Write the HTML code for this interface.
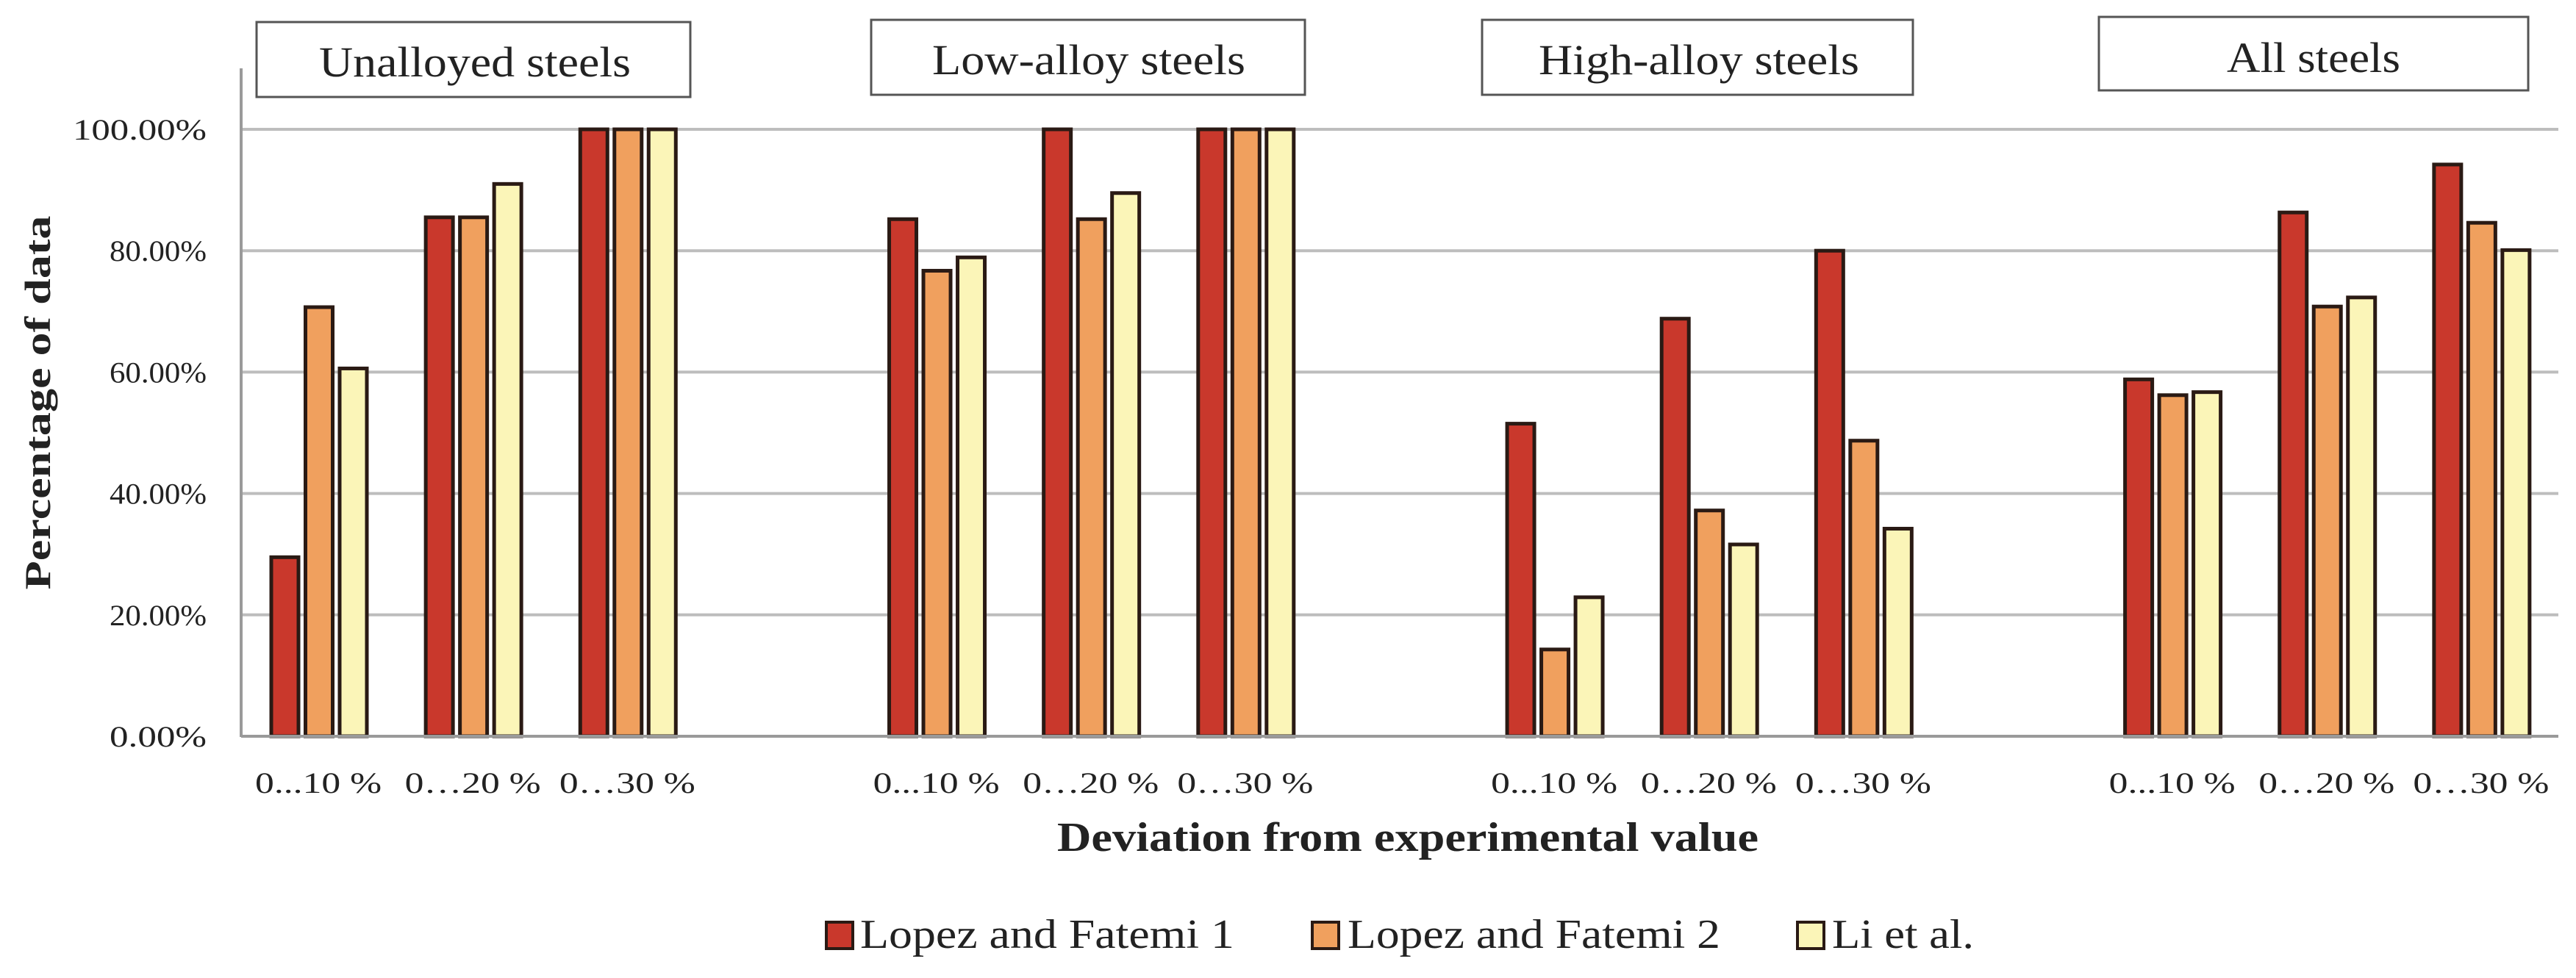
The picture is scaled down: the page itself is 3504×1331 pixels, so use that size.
<!DOCTYPE html>
<html><head><meta charset="utf-8"><style>
html,body{margin:0;padding:0;background:#fff;}
svg{display:block;}
text{font-family:"Liberation Serif",serif;fill:#222;}
</style></head><body>
<svg id="chart" width="3504" height="1331" viewBox="0 0 3504 1331" xmlns="http://www.w3.org/2000/svg">
<g id="grid"></g>
<g id="yticks"></g>
<g id="bars"></g>
<g id="xlabels"></g>
<line x1="328" y1="93" x2="328" y2="1003" stroke="#9a9a9a" stroke-width="4"/>
<line x1="328" y1="1002" x2="3480" y2="1002" stroke="#9a9a9a" stroke-width="4"/>
<text transform="translate(68,548) rotate(-90)" text-anchor="middle" font-weight="bold" font-size="50" textLength="509" lengthAdjust="spacingAndGlyphs">Percentage of data</text>
<text x="1438" y="1158" font-weight="bold" font-size="56" textLength="954" lengthAdjust="spacingAndGlyphs">Deviation from experimental value</text>
<g><rect x="349" y="30" width="590" height="102" fill="#fff" stroke="#555" stroke-width="3"/><text x="434" y="104" font-size="58" textLength="424" lengthAdjust="spacingAndGlyphs">Unalloyed steels</text></g>
<g><rect x="1185" y="27" width="590" height="102" fill="#fff" stroke="#555" stroke-width="3"/><text x="1268" y="101" font-size="58" textLength="426" lengthAdjust="spacingAndGlyphs">Low-alloy steels</text></g>
<g><rect x="2016" y="27" width="586" height="102" fill="#fff" stroke="#555" stroke-width="3"/><text x="2093" y="101" font-size="58" textLength="436" lengthAdjust="spacingAndGlyphs">High-alloy steels</text></g>
<g><rect x="2855" y="23" width="584" height="100" fill="#fff" stroke="#555" stroke-width="3"/><text x="3029" y="98" font-size="58" textLength="236" lengthAdjust="spacingAndGlyphs">All steels</text></g>
<g>
<g><rect x="1124" y="1255" width="36" height="36" fill="#c9382c" stroke="#2a1a14" stroke-width="4"/><text x="1170" y="1290" font-size="56" textLength="509" lengthAdjust="spacingAndGlyphs">Lopez and Fatemi 1</text></g>
<g><rect x="1785" y="1255" width="36" height="36" fill="#f0a05e" stroke="#2a1a14" stroke-width="4"/><text x="1833" y="1290" font-size="56" textLength="507" lengthAdjust="spacingAndGlyphs">Lopez and Fatemi 2</text></g>
<g><rect x="2445" y="1255" width="36" height="36" fill="#fbf5b8" stroke="#2a1a14" stroke-width="4"/><text x="2492" y="1290" font-size="56" textLength="193" lengthAdjust="spacingAndGlyphs">Li et al.</text></g>
</g>
</svg>
<script>
const categories = ["0...10 %","0…20 %","0…30 %","","0...10 %","0…20 %","0…30 %","","0...10 %","0…20 %","0…30 %","","0...10 %","0…20 %","0…30 %"];
const seriesNames = ["Lopez and Fatemi 1","Lopez and Fatemi 2","Li et al."];
const lopezFatemi1 = [29.5,85.5,100,null,85.2,100,100,null,51.5,68.8,80,null,58.8,86.3,94.2];
const lopezFatemi2 = [70.7,85.5,100,null,76.7,85.2,100,null,14.3,37.2,48.7,null,56.2,70.8,84.6];
const liEtAl = [60.6,91,100,null,78.9,89.5,100,null,22.9,31.6,34.2,null,56.7,72.3,80.1];
const yTickValues = [0,20,40,60,80,100];
const yTickLabels = ["0.00%","20.00%","40.00%","60.00%","80.00%","100.00%"];

const NS="http://www.w3.org/2000/svg";
const X0=328, X1=3480, Y0=1002, Y100=176;
const slotW=(X1-X0)/categories.length;
function yScale(v){return Y0-(Y0-Y100)*v/100;}
function xSlot(i){return X0+i*slotW;}
function mk(tag,attrs,parent){const e=document.createElementNS(NS,tag);for(const k in attrs)e.setAttribute(k,attrs[k]);parent.appendChild(e);return e;}
const grid=document.getElementById('grid'), yt=document.getElementById('yticks'), bars=document.getElementById('bars'), xl=document.getElementById('xlabels');
yTickValues.forEach((v,i)=>{
  if(v>0){const l=mk('line',{x1:X0,x2:X1,y1:yScale(v),y2:yScale(v),stroke:'#bdbdbd','stroke-width':4},grid);
  
  }
  const t=mk('text',{x:281,y:yScale(v)+14,'text-anchor':'end','font-size':40,textLength:(yTickLabels[i].length>6?182:132),lengthAdjust:'spacingAndGlyphs'},yt);
  t.textContent=yTickLabels[i];
  
  
});
const allSeries=[lopezFatemi1,lopezFatemi2,liEtAl];
const colors=['#c9382c','#f0a05e','#fbf5b8'];
categories.forEach((c,i)=>{
  if(!c) return;
  allSeries.forEach((s,j)=>{
    const v=s[i]; if(v==null) return;
    const x=xSlot(i)+39+j*46.5, y=yScale(v);
    const r=mk('rect',{x:x+2,y:y,width:37,height:Y0-y,fill:colors[j],stroke:'#2a1a14','stroke-width':5},bars);
    
    
  });
  const t=mk('text',{x:xSlot(i)+slotW/2,y:1079,'text-anchor':'middle','font-size':40,fill:'#444',textLength:(c.indexOf('10')>=0?172:185),lengthAdjust:'spacingAndGlyphs'},xl);
  t.textContent=c;
  
  
});
</script>
</body></html>
